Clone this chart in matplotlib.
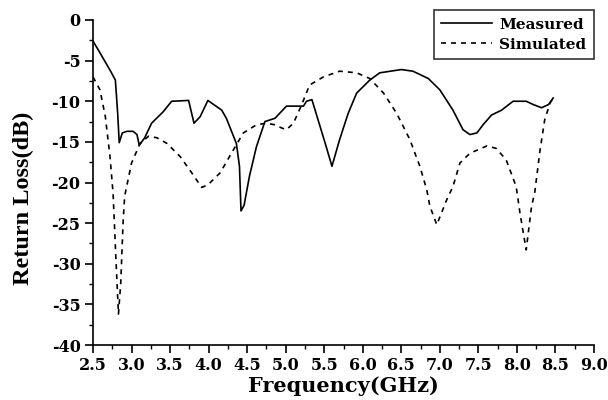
import matplotlib
matplotlib.use("Agg")
from matplotlib import pyplot as plt
from matplotlib.ticker import MultipleLocator

# measured return loss
freq_meas = [2.50, 2.60, 2.74, 2.79, 2.82, 2.84, 2.88, 2.94, 3.02, 3.07, 3.10, 3.17, 3.26, 3.41,
             3.52, 3.74, 3.81, 3.89, 3.99, 4.17, 4.23, 4.36, 4.40, 4.42, 4.46, 4.53, 4.62,
             4.73, 4.86, 5.01, 5.14, 5.23, 5.27, 5.34, 5.42, 5.51, 5.60, 5.70, 5.81, 5.92,
             6.09, 6.22, 6.50, 6.65, 6.85, 7.00, 7.17, 7.30, 7.39, 7.48, 7.56, 7.67, 7.80,
             7.95, 8.12, 8.21, 8.32, 8.41, 8.47]
rl_meas = [-2.6, -4.2, -6.5, -7.4, -11.5, -15.1, -13.9, -13.7, -13.7, -14.1, -15.4, -14.5, -12.7, -11.3,
           -10.0, -9.9, -12.7, -11.9, -9.9, -11.1, -12.1, -15.2, -18.0, -23.5, -22.8, -19.2, -15.6,
           -12.5, -12.1, -10.6, -10.6, -10.6, -10.0, -9.8, -12.3, -15.1, -18.0, -14.7, -11.5, -9.0,
           -7.4, -6.5, -6.1, -6.3, -7.2, -8.6, -11.1, -13.5, -14.1, -13.9, -12.9, -11.7, -11.1,
           -10.0, -10.0, -10.4, -10.8, -10.4, -9.6]

# simulated return loss
freq_sim = [2.50, 2.59, 2.66, 2.72, 2.76, 2.80, 2.83, 2.86, 2.89, 2.91, 3.00, 3.11, 3.22, 3.33,
            3.46, 3.63, 3.78, 3.91, 3.99, 4.15, 4.32, 4.45, 4.62, 4.75, 4.86, 4.95, 5.01, 5.10,
            5.20, 5.31, 5.49, 5.70, 5.92, 6.09, 6.27, 6.44, 6.61, 6.74, 6.83, 6.87, 6.96, 7.09,
            7.17, 7.26, 7.39, 7.61, 7.73, 7.86, 7.99, 8.04, 8.12, 8.19, 8.23, 8.30, 8.36, 8.43,
            8.49]
rl_sim = [-7.0, -8.6, -11.9, -16.8, -21.3, -30.0, -36.2, -32.3, -24.9, -21.7, -17.6, -15.2, -14.3, -14.5,
          -15.2, -16.8, -18.8, -20.6, -20.3, -18.8, -16.0, -13.9, -12.9, -12.7, -12.9, -13.3, -13.5, -12.7,
          -10.6, -8.0, -7.0, -6.3, -6.5, -7.2, -9.0, -11.5, -14.7, -18.0, -20.9, -22.9, -25.2, -22.1,
          -20.5, -17.6, -16.4, -15.5, -15.8, -17.2, -20.5, -23.8, -28.3, -22.9, -21.3, -16.0, -12.3, -10.2,
          -9.4]

x_ticks = [2.5, 3.0, 3.5, 4.0, 4.5, 5.0, 5.5, 6.0, 6.5, 7.0, 7.5, 8.0, 8.5, 9.0]
x_ticklabels = ["2.5", "3.0", "3.5", "4.0", "4.5", "5.0", "5.5", "6.0", "6.5", "7.0", "7.5", "8.0", "8.5", "9.0"]

wide = "DejaVu Serif"
times = "Liberation Serif"
plt.rcParams["axes.unicode_minus"] = False

fig = plt.figure(figsize=(6.08, 4.0), dpi=100)
ax = fig.add_axes([0.153, 0.1375, 0.824, 0.8125])

ax.plot(freq_meas, rl_meas, color="black", linewidth=1.2, label="Measured")
ax.plot(freq_sim, rl_sim, color="black", linewidth=1.2, linestyle=(0, (3, 3)), label="Simulated")

ax.set_xlim(2.5, 9.0)
ax.set_ylim(-40, 0)
ax.set_xticks(x_ticks)
ax.set_xticklabels(x_ticklabels)
ax.xaxis.set_minor_locator(MultipleLocator(0.25))
ax.yaxis.set_major_locator(MultipleLocator(5))
ax.yaxis.set_minor_locator(MultipleLocator(2.5))
ax.spines["top"].set_visible(False)
ax.spines["right"].set_visible(False)
ax.spines["left"].set_linewidth(1.2)
ax.spines["bottom"].set_linewidth(1.2)
ax.tick_params(which="major", direction="out", length=6, width=1.2, pad=3)
ax.tick_params(which="minor", direction="out", length=3, width=1.0)

for lab in ax.get_xticklabels() + ax.get_yticklabels():
    lab.set_fontfamily(wide)
    lab.set_fontweight("bold")
    lab.set_fontsize(11.5)

ax.set_xlabel("Frequency(GHz)", fontfamily=wide, fontweight="bold", fontsize=15, labelpad=1)
ax.set_ylabel("Return Loss(dB)", fontfamily=times, fontweight="bold", fontsize=17.5)
ax.yaxis.set_label_coords(-0.118, 0.45)

leg = ax.legend(loc="upper right", bbox_to_anchor=(1.0, 1.031), borderaxespad=0, fancybox=False,
                edgecolor="black", prop={"family": wide, "weight": "bold", "size": 11},
                handlelength=3.3, handletextpad=0.5, borderpad=0.5, labelspacing=0.4)
leg.get_frame().set_linewidth(1.2)

fig.savefig("out.png", dpi=100)
